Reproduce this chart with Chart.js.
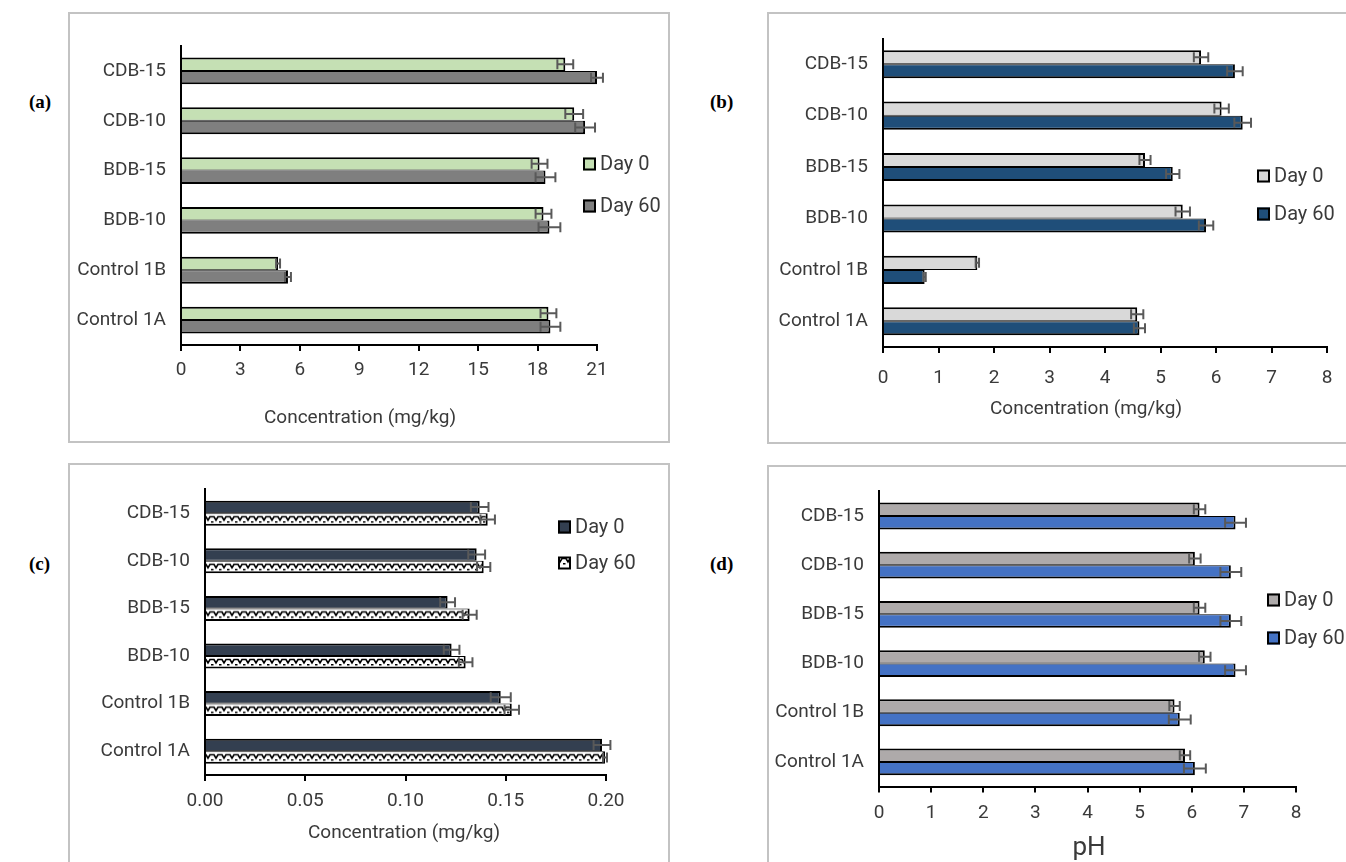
<!DOCTYPE html>
<html lang="en">
<head>
<meta charset="UTF-8">
<title>Day 0 / Day 60 bar charts</title>
<script src="https://cdn.jsdelivr.net/npm/chart.js"></script>
<style>
  html, body { margin: 0; padding: 0; width: 1346px; height: 862px; overflow: hidden; background: #fff; }
  .frame { position: absolute; border: 2px solid #c3c3c3; box-sizing: border-box; }
  .tag { position: absolute; font-family: 'Liberation Serif', serif; font-weight: bold; font-size: 19px; color: #000; }
  canvas { position: absolute; }
</style>
</head>
<body>
<div class="frame" style="left:68px;top:12px;width:602px;height:431px"></div>
<div class="frame" style="left:767px;top:12px;width:600px;height:432px"></div>
<div class="frame" style="left:68px;top:463px;width:602px;height:420px"></div>
<div class="frame" style="left:767px;top:465px;width:600px;height:420px"></div>
<div class="tag" style="left:29px;top:91px">(a)</div>
<div class="tag" style="left:710px;top:91px">(b)</div>
<div class="tag" style="left:29px;top:553px">(c)</div>
<div class="tag" style="left:710px;top:553px">(d)</div>
<canvas id="chartA"></canvas>
<canvas id="chartB"></canvas>
<canvas id="chartC"></canvas>
<canvas id="chartD"></canvas>
<script>
const categories = ['CDB-15', 'CDB-10', 'BDB-15', 'BDB-10', 'Control 1B', 'Control 1A'];
const seriesNames = ['Day 0', 'Day 60'];

// (a) concentration, mg/kg
const day0A = [19.4, 19.85, 18.1, 18.3, 4.9, 18.55];
const day60A = [21.0, 20.4, 18.4, 18.6, 5.4, 18.65];
const err0A = [0.4, 0.45, 0.4, 0.4, 0.1, 0.4];
const err60A = [0.3, 0.5, 0.5, 0.55, 0.15, 0.5];
const ticksA = [0, 3, 6, 9, 12, 15, 18, 21];

// (b) concentration, mg/kg
const day0B = [5.73, 6.10, 4.72, 5.40, 1.70, 4.58];
const day60B = [6.34, 6.48, 5.22, 5.82, 0.75, 4.62];
const err0B = [0.13, 0.13, 0.10, 0.13, 0.03, 0.11];
const err60B = [0.14, 0.15, 0.12, 0.13, 0.02, 0.10];
const ticksB = [0, 1, 2, 3, 4, 5, 6, 7, 8];

// (c) concentration, mg/kg
const day0C = [0.137, 0.1355, 0.121, 0.123, 0.1475, 0.198];
const day60C = [0.141, 0.139, 0.132, 0.130, 0.153, 0.1995];
const err0C = [0.0044, 0.0042, 0.0037, 0.0039, 0.005, 0.0042];
const err60C = [0.0036, 0.0033, 0.0035, 0.0034, 0.0036, 0.001];
const ticksC = [0, 0.05, 0.10, 0.15, 0.20];

// (d) pH
const day0D = [6.15, 6.06, 6.15, 6.25, 5.67, 5.87];
const day60D = [6.84, 6.75, 6.75, 6.84, 5.77, 6.06];
const err0D = [0.11, 0.11, 0.11, 0.11, 0.10, 0.10];
const err60D = [0.20, 0.20, 0.20, 0.20, 0.21, 0.21];
const ticksD = [0, 1, 2, 3, 4, 5, 6, 7, 8];

Chart.defaults.font.family = 'Roboto';
Chart.defaults.color = '#404040';

const TEXT = '#3a3a3a';
const LABEL_SIZE = 19;

// white fill with a black wave, used for Day 60 in (c)
const waveTile = (() => {
  const t = document.createElement('canvas');
  t.width = 8; t.height = 40;
  const g = t.getContext('2d');
  g.fillStyle = '#fff';
  g.fillRect(0, 0, 8, 40);
  g.strokeStyle = '#000';
  g.lineWidth = 1.6;
  g.beginPath();
  g.moveTo(0, 3.5); g.lineTo(2, 3.5); g.lineTo(4, 7); g.lineTo(6, 3.5); g.lineTo(8, 3.5);
  g.stroke();
  g.fillStyle = '#000';
  g.fillRect(0, 8, 1.5, 1.5);
  g.fillRect(7, 8, 1, 1.5);
  return t;
})();

function wavePattern(ctx, y) {
  const p = ctx.createPattern(waveTile, 'repeat');
  p.setTransform(new DOMMatrix().translate(0, y));
  return p;
}

const errorBars = {
  id: 'errorBars',
  afterDatasetsDraw(chart) {
    const ctx = chart.ctx;
    const xs = chart.scales.x;
    ctx.save();
    ctx.strokeStyle = '#595959';
    ctx.lineWidth = 2;
    chart.data.datasets.forEach((ds, di) => {
      chart.getDatasetMeta(di).data.forEach((bar, i) => {
        const v = ds.data[i], e = ds.errors[i];
        const x1 = xs.getPixelForValue(v - e);
        const x2 = xs.getPixelForValue(v + e);
        const y = bar.y;
        ctx.beginPath();
        ctx.moveTo(x1, y); ctx.lineTo(x2, y);
        ctx.moveTo(x1, y - 5); ctx.lineTo(x1, y + 5);
        ctx.moveTo(x2, y - 5); ctx.lineTo(x2, y + 5);
        ctx.stroke();
      });
    });
    ctx.restore();
  }
};

const boxLegend = {
  id: 'boxLegend',
  afterDraw(chart, args, opts) {
    const ctx = chart.ctx;
    ctx.save();
    chart.data.datasets.forEach((ds, di) => {
      const x = opts.x, y = opts.y[di];
      const fill = opts.fills[di];
      ctx.fillStyle = fill === 'wave' ? wavePattern(ctx, y - 8) : fill;
      ctx.fillRect(x, y - 6.5, 13, 13);
      ctx.strokeStyle = '#000';
      ctx.lineWidth = 2;
      ctx.strokeRect(x + 1, y - 5.5, 11, 11);
      ctx.fillStyle = TEXT;
      ctx.font = opts.size + 'px Roboto';
      ctx.textBaseline = 'middle';
      ctx.textAlign = 'left';
      ctx.fillText(ds.label, x + 17, y + 1);
    });
    ctx.restore();
  }
};

// axis title placed where the reference has it (not always centred on the plot)
const axisTitle = {
  id: 'axisTitle',
  afterDraw(chart, args, opts) {
    const ctx = chart.ctx;
    ctx.save();
    ctx.fillStyle = TEXT;
    ctx.font = opts.size + 'px Roboto';
    ctx.textAlign = 'center';
    ctx.textBaseline = 'middle';
    ctx.fillText(opts.text, opts.x, opts.y);
    ctx.restore();
  }
};

function buildPanel(id, p) {
  const f = p.frame;
  const cv = document.getElementById(id);
  cv.width = f.w; cv.height = f.h;
  cv.style.left = f.x + 'px'; cv.style.top = f.y + 'px';
  cv.style.width = f.w + 'px'; cv.style.height = f.h + 'px';

  // page coordinates -> canvas coordinates
  const plot = {
    left: p.plot.left - f.x, right: p.plot.right - f.x,
    top: p.plot.top - f.y, bottom: p.plot.bottom - f.y
  };
  const tickPad = (p.tickY - f.y) - plot.bottom - 6 - 0.6 * LABEL_SIZE;
  const fills = [p.colors[0], p.colors[1]];

  const bg1 = p.colors[1] === 'wave'
    ? (c) => {
        const ys = c.chart.scales.y;
        if (c.type !== 'data' || !ys) return '#ffffff';
        return wavePattern(c.chart.ctx, ys.getPixelForValue(c.dataIndex));
      }
    : p.colors[1];

  return new Chart(cv, {
    type: 'bar',
    data: {
      labels: categories,
      datasets: [{
        label: seriesNames[0],
        data: p.day0,
        errors: p.err0,
        backgroundColor: p.colors[0],
        borderColor: '#000',
        borderWidth: { top: 2, right: 2, bottom: 1, left: 0 },
        categoryPercentage: p.catPct,
        barPercentage: 1
      }, {
        label: seriesNames[1],
        data: p.day60,
        errors: p.err60,
        backgroundColor: bg1,
        borderColor: '#000',
        borderWidth: { top: 1, right: 2, bottom: 2, left: 0 },
        categoryPercentage: p.catPct,
        barPercentage: 1
      }]
    },
    options: {
      indexAxis: 'y',
      responsive: false,
      animation: false,
      devicePixelRatio: 1,
      layout: { padding: { left: 0, bottom: 0, top: plot.top, right: f.w - plot.right } },
      scales: {
        y: {
          afterFit: s => { s.width = plot.left; },
          grid: { display: false, drawTicks: false },
          border: { display: true, color: '#000', width: 2 },
          ticks: { color: TEXT, padding: 15, font: { size: LABEL_SIZE } }
        },
        x: {
          type: 'linear',
          min: p.ticks[0],
          max: p.ticks[p.ticks.length - 1],
          afterBuildTicks: s => { s.ticks = p.ticks.map(v => ({ value: v })); },
          afterFit: s => { s.height = f.h - plot.bottom; },
          grid: { display: true, drawOnChartArea: false, drawTicks: true, tickLength: 6, color: '#000', lineWidth: 2 },
          border: { display: true, color: '#000', width: 2 },
          ticks: {
            color: TEXT,
            padding: tickPad,
            maxRotation: 0,
            autoSkip: false,
            font: { size: LABEL_SIZE },
            callback: v => p.fmt(v)
          },
          title: { display: false }
        }
      },
      plugins: {
        legend: { display: false },
        tooltip: { enabled: false },
        boxLegend: { x: p.legend.x - f.x, y: p.legend.y.map(v => v - f.y), fills: fills, size: 20 },
        axisTitle: { text: p.title, x: p.titleX - f.x, y: p.titleY - f.y, size: p.titleSize }
      }
    },
    plugins: [errorBars, boxLegend, axisTitle]
  });
}

buildPanel('chartA', {
  frame: { x: 68, y: 12, w: 602, h: 431 },
  plot: { left: 181, top: 46, right: 597, bottom: 345 },
  tickY: 370, titleX: 360, titleY: 418, titleSize: 19,
  title: 'Concentration (mg/kg)',
  day0: day0A, day60: day60A, err0: err0A, err60: err60A,
  ticks: ticksA, fmt: v => String(v),
  colors: ['#c5e0b4', '#7f7f7f'],
  catPct: 0.54,
  legend: { x: 583, y: [164, 206] }
});

buildPanel('chartB', {
  frame: { x: 767, y: 12, w: 579, h: 432 },
  plot: { left: 883, top: 38.5, right: 1337, bottom: 347 },
  tickY: 378, titleX: 1086, titleY: 409, titleSize: 19,
  title: 'Concentration (mg/kg)',
  day0: day0B, day60: day60B, err0: err0B, err60: err60B,
  ticks: ticksB, fmt: v => String(v),
  colors: ['#d9d9d9', '#1f4e79'],
  catPct: 0.545,
  legend: { x: 1257, y: [176, 214] }
});

buildPanel('chartC', {
  frame: { x: 68, y: 463, w: 602, h: 399 },
  plot: { left: 205, top: 488, right: 606, bottom: 775 },
  tickY: 801, titleX: 404, titleY: 833, titleSize: 19,
  title: 'Concentration (mg/kg)',
  day0: day0C, day60: day60C, err0: err0C, err60: err60C,
  ticks: ticksC, fmt: v => v.toFixed(2),
  colors: ['#333f50', 'wave'],
  catPct: 0.525,
  legend: { x: 558, y: [527, 563] }
});

buildPanel('chartD', {
  frame: { x: 767, y: 465, w: 579, h: 397 },
  plot: { left: 879, top: 489.5, right: 1296, bottom: 786.5 },
  tickY: 813, titleX: 1089, titleY: 848, titleSize: 26,
  title: 'pH',
  day0: day0D, day60: day60D, err0: err0D, err60: err60D,
  ticks: ticksD, fmt: v => String(v),
  colors: ['#aeaaaa', '#4472c4'],
  catPct: 0.545,
  legend: { x: 1267, y: [600, 638] }
});
</script>
</body>
</html>
